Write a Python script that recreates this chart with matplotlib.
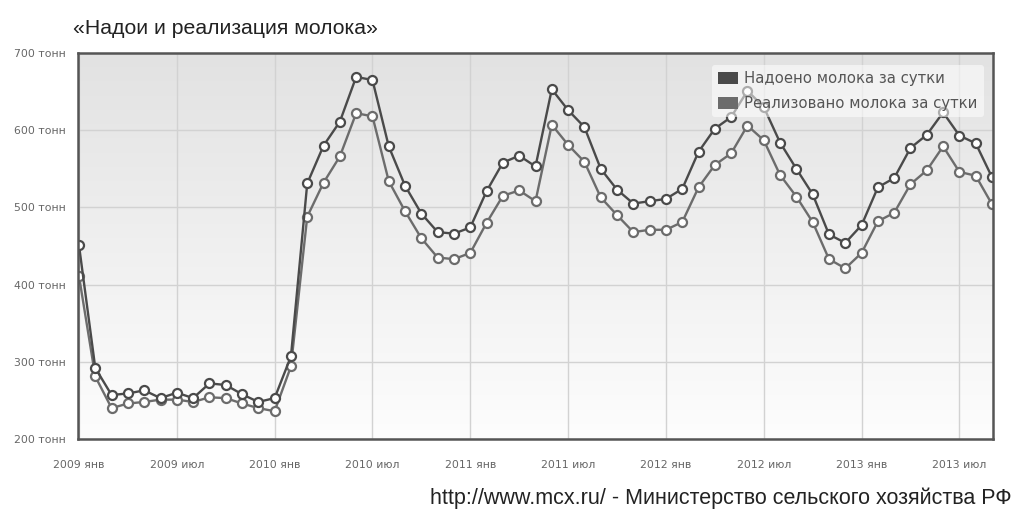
import numpy as np
import matplotlib
matplotlib.use("Agg")
import matplotlib.pyplot as plt
from matplotlib.patches import Patch

# ---- data (Jan 2009 .. Sep 2013, monthly) ----
months_ru = ["янв", "фев", "мар", "апр", "май", "июн", "июл", "авг", "сен", "окт", "ноя", "дек"]
start_year = 2009
n_points = 57
nadoeno = [451, 292, 257, 259, 263, 253, 260, 253, 272, 270, 258, 248, 253,
           307, 531, 580, 611, 669, 665, 579, 528, 492, 468, 466, 474,
           521, 558, 567, 553, 653, 626, 604, 550, 523, 505, 508, 511,
           524, 572, 602, 617, 651, 630, 584, 550, 517, 465, 454, 477,
           526, 538, 577, 594, 623, 593, 583, 539]
realizovano = [411, 281, 240, 246, 248, 251, 251, 248, 254, 253, 246, 240, 236,
               294, 488, 532, 566, 622, 618, 534, 495, 460, 435, 433, 441,
               480, 515, 522, 508, 607, 581, 559, 513, 490, 468, 471, 471,
               481, 526, 555, 570, 606, 587, 542, 514, 481, 433, 421, 441,
               482, 493, 530, 548, 579, 546, 541, 504]
series_names = ["Надоено молока за сутки", "Реализовано молока за сутки"]
y_ticks = [200, 300, 400, 500, 600, 700]
y_tick_labels = [f"{v} тонн" for v in y_ticks]
x_tick_idx = list(range(0, n_points, 6))
x_tick_labels = [f"{start_year + i // 12} {months_ru[i % 12]}" for i in x_tick_idx]
title = "«Надои и реализация молока»"
source = "http://www.mcx.ru/ - Министерство сельского хозяйства РФ"

x = np.arange(n_points)

fig = plt.figure(figsize=(10.17, 5.09), dpi=100)
fig.patch.set_facecolor("white")
ax = fig.add_axes([0.0767, 0.1375, 0.8997, 0.7584])

# gradient background
grad = np.linspace(0, 1, 256).reshape(-1, 1)
cmap = matplotlib.colors.LinearSegmentedColormap.from_list("bg", ["#fdfdfd", "#e2e2e2"])
ax.imshow(grad, extent=[0, 1, 0, 1], transform=ax.transAxes, origin="lower",
          cmap=cmap, aspect="auto", zorder=0)

ax.set_xlim(-0.06, 56.06)
ax.set_ylim(200, 700)

for v in y_ticks:
    ax.axhline(v, color="#d2d2d2", lw=1.0, zorder=1)
for i in x_tick_idx:
    ax.axvline(i, color="#d2d2d2", lw=1.0, zorder=1)

line_colors = ["#4a4a4a", "#6c6c6c"]
ax.plot(x, realizovano, color=line_colors[1], lw=1.7, marker="o", ms=6.5,
        mfc="white", mec=line_colors[1], mew=1.6, zorder=3)
ax.plot(x, nadoeno, color=line_colors[0], lw=1.7, marker="o", ms=6.5,
        mfc="white", mec=line_colors[0], mew=1.6, zorder=4)

ax.set_yticks(y_ticks)
ax.set_yticklabels(y_tick_labels)
ax.set_xticks(x_tick_idx)
ax.set_xticklabels(x_tick_labels)
ax.tick_params(axis="both", length=0, labelsize=7.8, labelcolor="#666666")
ax.tick_params(axis="y", pad=9)
ax.tick_params(axis="x", pad=15)

for s in ax.spines.values():
    s.set_color("#555555")
    s.set_linewidth(1.8)
    s.set_zorder(5)

handles = [Patch(facecolor=line_colors[0], edgecolor="none"),
           Patch(facecolor=line_colors[1], edgecolor="none")]
leg = ax.legend(handles, series_names, loc="upper right", bbox_to_anchor=(0.998, 0.987),
                frameon=True, fontsize=10.7, handlelength=1.35, handleheight=0.87,
                handletextpad=0.45, labelspacing=0.68, borderpad=0.4)
leg.get_frame().set_facecolor("white")
leg.get_frame().set_alpha(0.55)
leg.get_frame().set_edgecolor("none")
leg.set_zorder(6)
for t in leg.get_texts():
    t.set_color("#555555")

fig.text(0.0718, 1 - 33.5 / 509, title, fontsize=15.3, family="Liberation Sans",
         color="#222222", ha="left", va="baseline")
fig.text(0.995, 1 - 504 / 509, source, fontsize=15.5, family="Liberation Sans",
         color="#222222", ha="right", va="baseline")

fig.savefig("out.png", dpi=100)
